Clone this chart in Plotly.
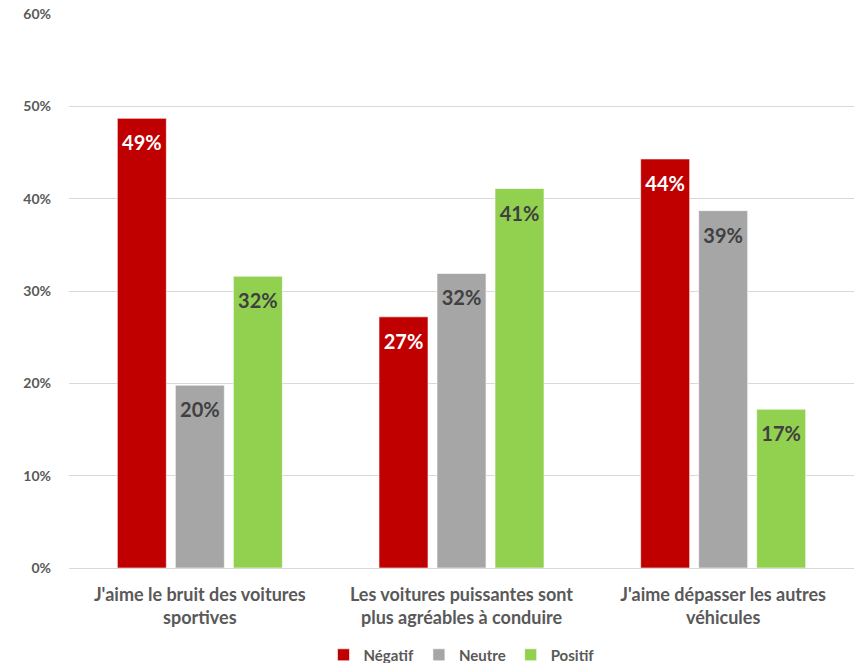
import plotly.graph_objects as go

categories = ["J'aime le bruit des voitures<br>sportives",
              "Les voitures puissantes sont<br>plus agréables à conduire",
              "J'aime dépasser les autres<br>véhicules"]
negatif = [48.7, 27.2, 44.3]
neutre = [19.8, 31.9, 38.7]
positif = [31.6, 41.1, 17.2]
tick_vals = [0, 10, 20, 30, 40, 50, 60]
tick_text = ["0%", "10%", "20%", "30%", "40%", "50%", "60%"]

FONT = "Lato"
series = [
    ("Négatif", negatif, "#C00000", "#FFFFFF"),
    ("Neutre", neutre, "#A6A6A6", "#404040"),
    ("Positif", positif, "#92D050", "#404040"),
]

fig = go.Figure()
for name, vals, color, tcol in series:
    fig.add_trace(go.Bar(
        name=name, x=categories, y=vals,
        marker=dict(color=color, line=dict(color="rgba(255,255,255,0.6)", width=1)),
        texttemplate="<span style='font-size:3px'> </span><br>%{y:.0f}%",
        textposition="inside", insidetextanchor="end",
        textfont=dict(family=FONT, size=20, color=tcol, weight="bold"),
        textangle=0, cliponaxis=False,
    ))

fig.update_layout(
    width=861, height=663,
    margin=dict(l=69, r=7, t=14, b=95, autoexpand=False),
    paper_bgcolor="white", plot_bgcolor="white",
    barmode="group", bargap=0.335, bargroupgap=0.155,
    font=dict(family=FONT, color="#595959"),
    legend=dict(orientation="h", x=0.5, xanchor="center",
                yref="container", y=0.012, yanchor="middle",
                font=dict(family=FONT, size=15, color="#595959", weight="bold"),
                itemwidth=30, traceorder="normal"),
    showlegend=True,
)
fig.update_xaxes(showgrid=False, showline=False, ticks="", ticklabelstandoff=14,
                 automargin=False,
                 tickfont=dict(family=FONT, size=18, color="#595959", weight="bold"))
fig.update_yaxes(range=[0, 60], tickvals=tick_vals, ticktext=tick_text,
                 showgrid=True, gridcolor="#D9D9D9", gridwidth=1,
                 zeroline=True, zerolinecolor="#D9D9D9", zerolinewidth=1,
                 showline=False, ticks="", ticklabelstandoff=17, automargin=False,
                 tickfont=dict(family=FONT, size=14, color="#595959", weight="bold"))

fig.write_html("out.html")
